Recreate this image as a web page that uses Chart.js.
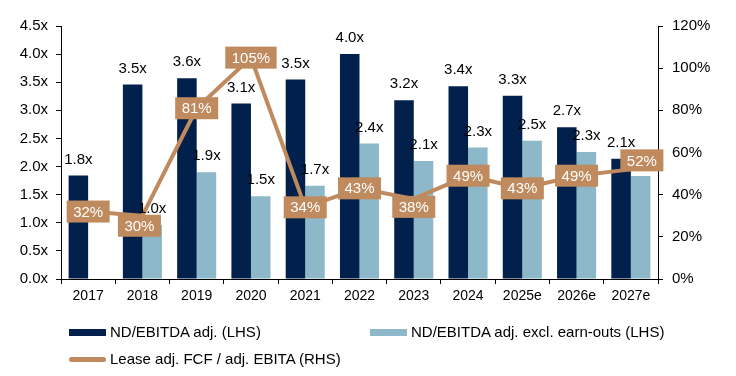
<!DOCTYPE html>
<html>
<head>
<meta charset="utf-8">
<script src="https://cdn.jsdelivr.net/npm/chart.js@4.4.1/dist/chart.umd.min.js"></script>
<style>
  html, body { margin: 0; padding: 0; background: #fff; }
  #wrap { position: relative; width: 736px; height: 376px; font-family: "Liberation Sans", Arial, sans-serif; }
  #legend .item { position: absolute; font-size: 15px; color: #000; line-height: 18px; white-space: nowrap; }
  #legend .swatch { position: absolute; }
</style>
</head>
<body>
<div id="wrap">
  <canvas id="leverageChart" width="736" height="376"></canvas>
  <div id="legend"></div>
</div>
<script>
// Chart data
const years = ['2017', '2018', '2019', '2020', '2021', '2022', '2023', '2024', '2025e', '2026e', '2027e'];
const ndEbitda = [1.84, 3.46, 3.57, 3.12, 3.55, 4.0, 3.18, 3.43, 3.26, 2.70, 2.14];
const ndEbitdaExcl = [null, 0.96, 1.90, 1.47, 1.66, 2.41, 2.10, 2.34, 2.46, 2.26, 1.83];
const fcfConversion = [32, 30, 81, 105, 34, 43, 38, 49, 43, 49, 52];
const leftTicks = ['0.0x', '0.5x', '1.0x', '1.5x', '2.0x', '2.5x', '3.0x', '3.5x', '4.0x', '4.5x'];
const rightTicks = ['0%', '20%', '40%', '60%', '80%', '100%', '120%'];

const seriesNames = ['ND/EBITDA adj. (LHS)', 'ND/EBITDA adj. excl. earn-outs (LHS)', 'Lease adj. FCF / adj. EBITA (RHS)'];

const NAVY = '#01214c';
const LIGHT = '#8db8c9';
const TAN = '#bf8a5d';
const FONT = '"Liberation Sans", Arial, sans-serif';

// a few line labels are nudged off their point so they don't hide bar labels
const boxNudge = { 1: [-3, 10], 6: [0, 8], 10: [11, -9] };

// Labels drawn above bars, then boxed labels on the line
const labelPlugin = {
    id: 'valueLabels',
    afterDatasetsDraw(chart) {
        const ctx = chart.ctx;
        ctx.save();
        ctx.font = '15px ' + FONT;
        ctx.textAlign = 'center';
        ctx.textBaseline = 'middle';

        chart.data.datasets.forEach((ds, di) => {
            if (ds.type !== 'bar') return;
            ctx.fillStyle = '#000';
            chart.getDatasetMeta(di).data.forEach((bar, i) => {
                const v = ds.data[i];
                if (v === null) return;
                ctx.fillText(v.toFixed(1) + 'x', bar.x, bar.y - 16);
            });
        });

        chart.data.datasets.forEach((ds, di) => {
            if (ds.type !== 'line') return;
            chart.getDatasetMeta(di).data.forEach((pt, i) => {
                const txt = ds.data[i] + '%';
                const w = ctx.measureText(txt).width + 13;
                const h = 22;
                const [dx, dy] = boxNudge[i] || [0, 0];
                const cx = pt.x + dx;
                const cy = pt.y + dy;
                ctx.fillStyle = TAN;
                ctx.fillRect(cx - w / 2, cy - h / 2, w, h);
                ctx.fillStyle = '#fff';
                ctx.fillText(txt, cx, cy + 1);
            });
        });
        ctx.restore();
    }
};

const axisGrid = {
    drawOnChartArea: false,
    drawTicks: true,
    tickLength: 5,
    color: '#000'
};

new Chart(document.getElementById('leverageChart'), {
    data: {
        labels: years,
        datasets: [
            {
                type: 'bar',
                label: seriesNames[0],
                data: ndEbitda,
                backgroundColor: NAVY,
                categoryPercentage: 0.72,
                barPercentage: 1,
                yAxisID: 'y',
                order: 1
            },
            {
                type: 'bar',
                label: seriesNames[1],
                data: ndEbitdaExcl,
                backgroundColor: LIGHT,
                categoryPercentage: 0.72,
                barPercentage: 1,
                yAxisID: 'y',
                order: 1
            },
            {
                type: 'line',
                label: seriesNames[2],
                data: fcfConversion,
                borderColor: TAN,
                borderWidth: 4,
                pointRadius: 0,
                tension: 0,
                yAxisID: 'y2',
                order: 0
            }
        ]
    },
    options: {
        responsive: false,
        animation: false,
        devicePixelRatio: 1,
        layout: { padding: { top: 26, left: 0, right: 0, bottom: 0 } },
        plugins: {
            legend: { display: false },
            tooltip: { enabled: false }
        },
        scales: {
            x: {
                offset: true,
                grid: Object.assign({ offset: true }, axisGrid),
                border: { color: '#000' },
                ticks: { color: '#000', font: { family: FONT, size: 14 }, padding: 4, maxRotation: 0 },
                afterFit: s => { s.height = 97; }
            },
            y: {
                position: 'left',
                min: 0,
                max: 4.5,
                grid: axisGrid,
                border: { color: '#000' },
                ticks: {
                    stepSize: 0.5,
                    color: '#000',
                    padding: 8,
                    font: { family: FONT, size: 15 },
                    callback: (v, i) => leftTicks[i]
                },
                afterFit: s => { s.width = 61; }
            },
            y2: {
                position: 'right',
                min: 0,
                max: 120,
                grid: axisGrid,
                border: { color: '#000' },
                ticks: {
                    stepSize: 20,
                    color: '#000',
                    padding: 9,
                    font: { family: FONT, size: 15 },
                    callback: (v, i) => rightTicks[i]
                },
                afterFit: s => { s.width = 78; }
            }
        }
    },
    plugins: [labelPlugin]
});

// Legend below the chart
const legendItems = [
    { name: seriesNames[0], color: NAVY, kind: 'box', left: 69, top: 332 },
    { name: seriesNames[1], color: LIGHT, kind: 'box', left: 370, top: 332 },
    { name: seriesNames[2], color: TAN, kind: 'line', left: 69, top: 359 }
];
const legendEl = document.getElementById('legend');
legendItems.forEach(item => {
    const sw = document.createElement('div');
    sw.className = 'swatch';
    const h = item.kind === 'box' ? 7 : 5;
    sw.style.left = item.left + 'px';
    sw.style.top = (item.top - h / 2) + 'px';
    sw.style.width = '37px';
    sw.style.height = h + 'px';
    sw.style.background = item.color;
    if (item.kind === 'line') sw.style.borderRadius = '3px';
    legendEl.appendChild(sw);

    const txt = document.createElement('div');
    txt.className = 'item';
    txt.style.left = (item.left + 41) + 'px';
    txt.style.top = (item.top - 9) + 'px';
    txt.textContent = item.name;
    legendEl.appendChild(txt);
});
</script>
</body>
</html>
